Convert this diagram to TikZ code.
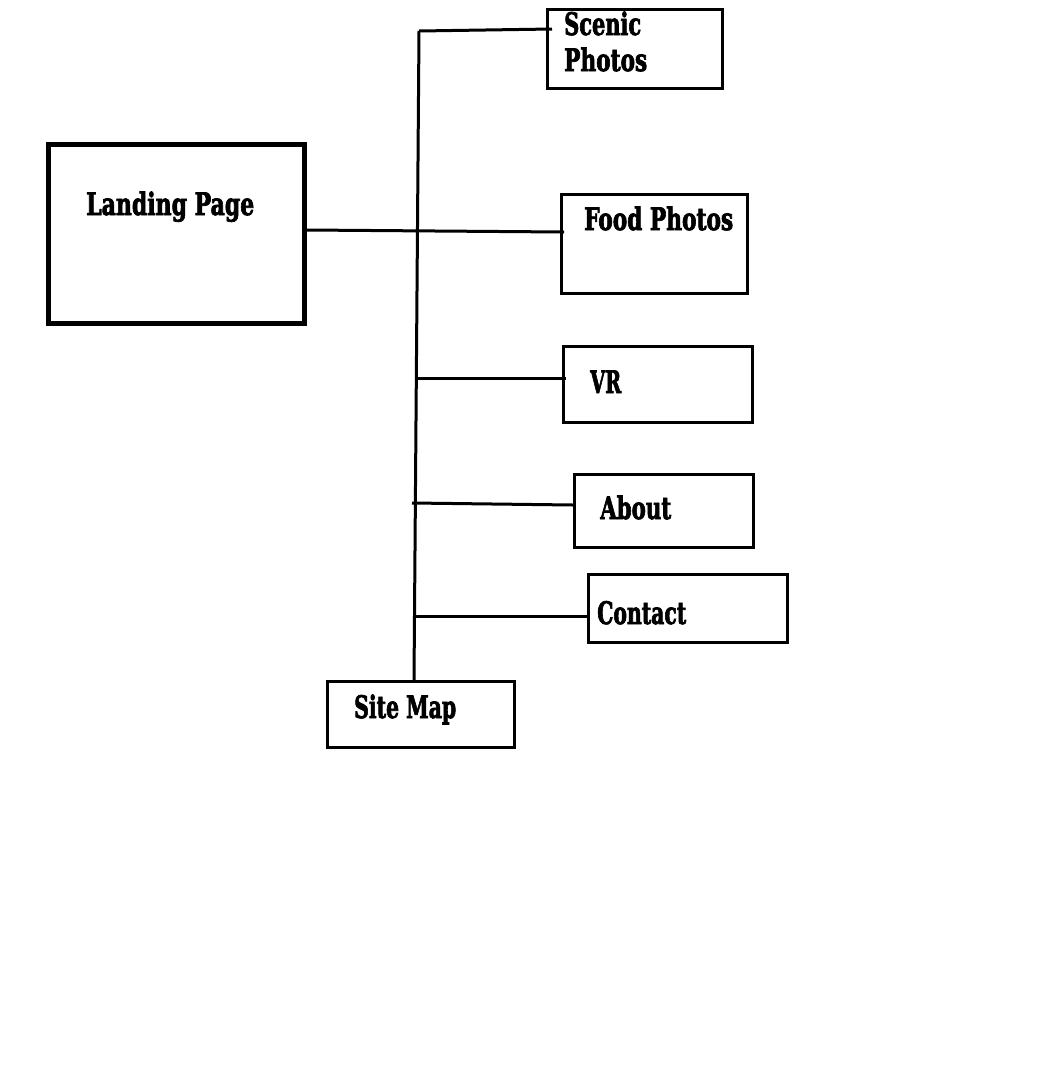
\documentclass[tikz,border=0pt]{standalone}
\usepackage{fontspec}
\usepackage{graphicx}
\IfFontExistsTF{DejaVu Serif Condensed}{\newfontfamily\bern{DejaVu Serif Condensed}[BoldFeatures={FakeBold=2.5}]}{\newfontfamily\bern{DejaVu Serif}[BoldFeatures={FakeBold=2.5}]}
\newcommand\lbw[2]{\resizebox{#1pt}{\height}{\bern\bfseries\fontsize{31}{31}\selectfont #2}}
\begin{document}
\begin{tikzpicture}[x=1pt,y=-1pt,
  box/.style={draw,rectangle,line width=3pt,inner sep=0pt},
  lbl/.style={anchor=base west,inner sep=0pt},
  conn/.style={line width=3pt}]
\useasboundingbox[fill=white] (0,0) rectangle (1043,1066);
% boxes
\node[box,line width=5pt,minimum width=256pt,minimum height=179pt] (lp) at (176.5,234) {};
\node[box,minimum width=175pt,minimum height=79pt] (sc) at (635,49) {};
\node[box,minimum width=186pt,minimum height=99pt] (fp) at (654.5,244) {};
\node[box,minimum width=189pt,minimum height=76pt] (vr) at (658,384.5) {};
\node[box,minimum width=179pt,minimum height=73pt] (ab) at (664,511) {};
\node[box,minimum width=199pt,minimum height=68pt] (ct) at (688,608.5) {};
\node[box,minimum width=187pt,minimum height=66pt] (sm) at (421,714.5) {};
% labels
\node[lbl] (lpT) at (86,215) {\lbw{168}{Landing Page}};
\node[lbl] (scT1) at (564,35) {\lbw{77}{Scenic}};
\node[lbl] (scT2) at (564,71) {\lbw{83}{Photos}};
\node[lbl] (fpT) at (584,230) {\lbw{149}{Food Photos}};
\node[lbl] (vrT) at (590,393) {\lbw{31}{VR}};
\node[lbl] (abT) at (600,519) {\lbw{71}{About}};
\node[lbl] (ctT) at (597,624) {\lbw{89}{Contact}};
\node[lbl] (smT) at (354,718) {\lbw{102}{Site Map}};
% trunk junctions
\coordinate (tTop) at (419,31);
\coordinate (jv) at (416,378);
\coordinate (ja) at (412,503);
\coordinate (jc) at (415,616);
% connectors
\draw[conn] (tTop) -- ([xshift=-7pt]sm.north);
\draw[conn] (tTop) -- ([xshift=6pt,yshift=20pt]sc.west);
\draw[conn] ([yshift=4pt]lp.east) -- ([xshift=4pt,yshift=12pt]fp.west);
\draw[conn] (jv) -- ([xshift=4pt,yshift=6.5pt]vr.west);
\draw[conn] (ja) -- ([yshift=6pt]ab.west);
\draw[conn] (jc) -- ([yshift=-7.5pt]ct.west);
\end{tikzpicture}
\end{document}
